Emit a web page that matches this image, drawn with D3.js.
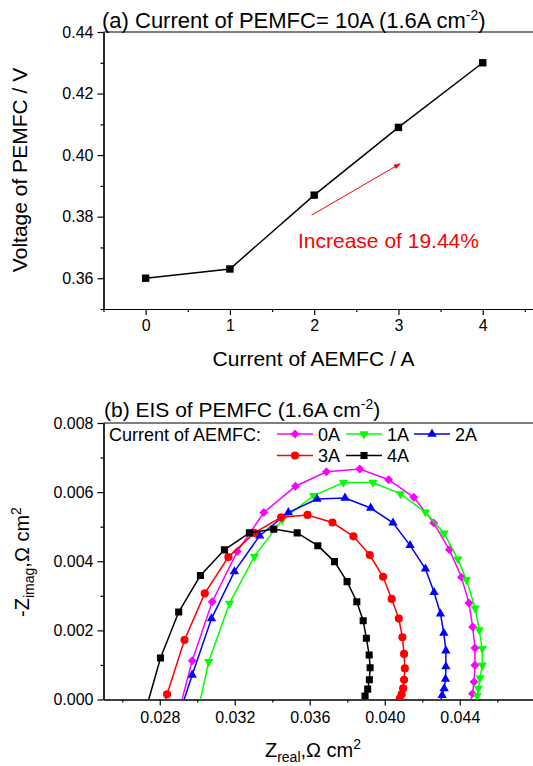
<!DOCTYPE html>
<html>
<head>
<meta charset="utf-8">
<script src="https://cdn.jsdelivr.net/npm/d3@7"></script>
<style>
  body { margin: 0; background: #fff; }
  svg { display: block; font-family: "Liberation Sans", Arial, sans-serif; }
  .axis path, .axis line { stroke: #000; stroke-width: 1.2; }
  .axis text { font-size: 16px; fill: #000; font-family: "Liberation Sans", Arial, sans-serif; }
</style>
</head>
<body>
<svg id="chart" width="533" height="766"></svg>
<script>
// (a) voltage vs AEMFC current
var aemfcCurrent = [0, 1, 2, 3, 4];
var pemfcVoltage = [0.360, 0.363, 0.387, 0.409, 0.430];
var voltTicks = [0.36, 0.38, 0.40, 0.42, 0.44];
var currTicks = [0, 1, 2, 3, 4];

// (b) EIS, Nyquist points
var seriesNames = ['0A', '1A', '2A', '3A', '4A'];
var zReal0A = [0.02895, 0.02973, 0.0308, 0.03213, 0.03355, 0.03524, 0.03689, 0.03867, 0.04021, 0.04155, 0.04261, 0.04345, 0.04409, 0.04449, 0.04469, 0.04481, 0.04481, 0.04476, 0.04468, 0.0445];
var zImag0A = [-0.0005, 0.00112, 0.00283, 0.00428, 0.00541, 0.00617, 0.00659, 0.00667, 0.00636, 0.00585, 0.00511, 0.00433, 0.00354, 0.00279, 0.0021, 0.00149, 0.00099, 0.00051, 0.00017, -0.0002];
var zReal1A = [0.02997, 0.03061, 0.03172, 0.03305, 0.03453, 0.03621, 0.0378, 0.03937, 0.04084, 0.04217, 0.04316, 0.0439, 0.04436, 0.04482, 0.04504, 0.0452, 0.0452, 0.04508, 0.04499, 0.04493, 0.0448];
var zImag1A = [-0.0005, 0.00109, 0.00278, 0.00414, 0.0052, 0.0059, 0.00628, 0.00628, 0.00595, 0.00542, 0.00481, 0.00406, 0.00346, 0.00264, 0.00201, 0.00147, 0.00099, 0.00062, 0.00032, 0.00011, -0.0002];
var zReal2A = [0.029, 0.02973, 0.03076, 0.03198, 0.03333, 0.03486, 0.03639, 0.03788, 0.03925, 0.04044, 0.04135, 0.04217, 0.04263, 0.04297, 0.04315, 0.04326, 0.04326, 0.04324, 0.04317, 0.04306, 0.0429];
var zImag2A = [-0.0005, 0.00071, 0.00234, 0.0037, 0.00474, 0.00541, 0.0058, 0.00583, 0.00554, 0.00511, 0.00446, 0.00378, 0.0031, 0.00248, 0.00192, 0.00141, 0.00095, 0.00059, 0.00032, 0.00012, -0.0002];
var zReal3A = [0.02801, 0.02839, 0.02932, 0.0304, 0.03166, 0.03305, 0.03447, 0.03588, 0.03721, 0.03833, 0.0392, 0.03991, 0.04037, 0.04075, 0.04094, 0.04103, 0.04107, 0.04103, 0.04098, 0.0409, 0.0408, 0.0406];
var zImag3A = [-0.0005, 0.00015, 0.00172, 0.00307, 0.00412, 0.00482, 0.00527, 0.00534, 0.00512, 0.00472, 0.00418, 0.00355, 0.00291, 0.00234, 0.0018, 0.00132, 0.0009, 0.00057, 0.00032, 0.00015, 0.00003, -0.0002];
var zReal4A = [0.02715, 0.02804, 0.02901, 0.03017, 0.03145, 0.03278, 0.03408, 0.03533, 0.03643, 0.03732, 0.03799, 0.03851, 0.03885, 0.03902, 0.03917, 0.03922, 0.03918, 0.03909, 0.03895, 0.0388];
var zImag4A = [-0.0005, 0.0012, 0.00253, 0.00359, 0.00433, 0.00482, 0.00493, 0.00482, 0.00445, 0.00399, 0.00341, 0.00283, 0.00228, 0.00177, 0.00129, 0.00092, 0.00057, 0.0003, 0.0001, -0.0002];
var zRealTicks = [0.028, 0.032, 0.036, 0.040, 0.044];
var zImagTicks = [0.000, 0.002, 0.004, 0.006, 0.008];

var svg = d3.select('#chart');
var font = '"Liberation Sans", Arial, sans-serif';

// ---------- panel (a) ----------
var xa = d3.scaleLinear().domain([-0.5, 5]).range([103.5, 567]);
var ya = d3.scaleLinear().domain([0.35, 0.44]).range([309, 32]);

// frame top line
svg.append('line').attr('x1', 103.5).attr('x2', 533).attr('y1', 32).attr('y2', 32)
  .attr('stroke', '#000').attr('stroke-width', 1.2);

svg.append('g').attr('class', 'axis').attr('transform', 'translate(0,309)')
  .call(d3.axisBottom(xa).tickValues(currTicks).tickSize(6).tickSizeOuter(0).tickPadding(5).tickFormat(d3.format('d')));
svg.append('g').attr('class', 'axis').attr('transform', 'translate(0,309)')
  .call(d3.axisBottom(xa).tickValues(d3.range(-0.5, 5, 1)).tickSize(3).tickSizeOuter(0).tickFormat(''));
svg.append('g').attr('class', 'axis').attr('transform', 'translate(103.5,0)')
  .call(d3.axisLeft(ya).tickValues(voltTicks).tickSize(6).tickSizeOuter(0).tickPadding(4).tickFormat(d3.format('.2f')));
svg.append('g').attr('class', 'axis').attr('transform', 'translate(103.5,0)')
  .call(d3.axisLeft(ya).tickValues([0.35, 0.37, 0.39, 0.41, 0.43]).tickSize(3).tickSizeOuter(0).tickFormat(''));

var lineA = d3.line().x(function(d, i) { return xa(aemfcCurrent[i]); }).y(function(d) { return ya(d); });
svg.append('path').datum(pemfcVoltage).attr('d', lineA)
  .attr('fill', 'none').attr('stroke', '#000').attr('stroke-width', 1.5);
svg.selectAll('.sqA').data(pemfcVoltage).enter().append('rect')
  .attr('x', function(d, i) { return xa(aemfcCurrent[i]) - 3.7; })
  .attr('y', function(d) { return ya(d) - 3.7; })
  .attr('width', 7.4).attr('height', 7.4).attr('fill', '#000');

// annotation arrow
svg.append('defs').append('marker').attr('id', 'arrowhead')
  .attr('viewBox', '0 0 10 10').attr('refX', 9).attr('refY', 5)
  .attr('markerWidth', 9).attr('markerHeight', 7).attr('orient', 'auto')
  .append('path').attr('d', 'M0,1.5 L10,5 L0,8.5 Z').attr('fill', '#f00');
svg.append('line').attr('x1', xa(1.97)).attr('y1', ya(0.3805)).attr('x2', xa(3.02)).attr('y2', ya(0.3972))
  .attr('stroke', '#f00').attr('stroke-width', 1).attr('marker-end', 'url(#arrowhead)');
svg.append('text').attr('x', 298).attr('y', 248).attr('fill', '#f00')
  .style('font-size', '21px').style('font-family', font).text('Increase of 19.44%');

var tA = svg.append('text').attr('x', 102).attr('y', 28).style('font-size', '22px').style('font-family', font);
tA.append('tspan').text('(a) Current of PEMFC= 10A (1.6A cm');
tA.append('tspan').attr('dy', -8).style('font-size', '14px').text('-2');
tA.append('tspan').attr('dy', 8).text(')');

svg.append('text').attr('x', 313.5).attr('y', 366).attr('text-anchor', 'middle')
  .style('font-size', '21px').style('font-family', font).text('Current of AEMFC / A');
svg.append('text').attr('transform', 'translate(27,170) rotate(-90)').attr('text-anchor', 'middle')
  .style('font-size', '21px').style('font-family', font).text('Voltage of PEMFC / V');

// ---------- panel (b) ----------
var xb = d3.scaleLinear().domain([0.025, 0.048]).range([103.5, 534.75]);
var yb = d3.scaleLinear().domain([0, 0.008]).range([699.5, 423]);

svg.append('clipPath').attr('id', 'clipB').append('rect')
  .attr('x', 103.5).attr('y', 423).attr('width', 430).attr('height', 276.5);

svg.append('line').attr('x1', 103.5).attr('x2', 533).attr('y1', 423).attr('y2', 423)
  .attr('stroke', '#000').attr('stroke-width', 1.2);

svg.append('g').attr('class', 'axis').attr('transform', 'translate(0,699.5)')
  .call(d3.axisBottom(xb).tickValues(zRealTicks).tickSize(6).tickSizeOuter(0).tickPadding(6).tickFormat(d3.format('.3f')));
svg.append('g').attr('class', 'axis').attr('transform', 'translate(0,699.5)')
  .call(d3.axisBottom(xb).tickValues([0.026, 0.030, 0.034, 0.038, 0.042, 0.046]).tickSize(3).tickSizeOuter(0).tickFormat(''));
svg.append('g').attr('class', 'axis').attr('transform', 'translate(103.5,0)')
  .call(d3.axisLeft(yb).tickValues(zImagTicks).tickSize(6).tickSizeOuter(0).tickPadding(4).tickFormat(d3.format('.3f')));
svg.append('g').attr('class', 'axis').attr('transform', 'translate(103.5,0)')
  .call(d3.axisLeft(yb).tickValues([0.001, 0.003, 0.005, 0.007]).tickSize(3).tickSizeOuter(0).tickFormat(''));

var eis = [
  { name: '0A', re: zReal0A, im: zImag0A, color: '#ff00ff', shape: d3.symbolSquare, size: 40, rot: 45 },
  { name: '1A', re: zReal1A, im: zImag1A, color: '#00ff00', shape: d3.symbolTriangle, size: 38, rot: 180 },
  { name: '2A', re: zReal2A, im: zImag2A, color: '#0000ff', shape: d3.symbolTriangle, size: 38, rot: 0 },
  { name: '3A', re: zReal3A, im: zImag3A, color: '#ff0000', shape: d3.symbolCircle, size: 52, rot: 0 },
  { name: '4A', re: zReal4A, im: zImag4A, color: '#000000', shape: d3.symbolSquare, size: 50, rot: 0 }
];

var plotB = svg.append('g').attr('clip-path', 'url(#clipB)');
eis.forEach(function(s) {
  var pts = s.re.map(function(r, i) { return [xb(r), yb(s.im[i])]; });
  plotB.append('path').datum(pts).attr('d', d3.line())
    .attr('fill', 'none').attr('stroke', s.color).attr('stroke-width', 1.5);
  var sym = d3.symbol().type(s.shape).size(s.size);
  plotB.selectAll(null).data(pts).enter().append('path')
    .attr('d', sym)
    .attr('transform', function(p) { return 'translate(' + p[0] + ',' + p[1] + ') rotate(' + s.rot + ')'; })
    .attr('fill', s.color);
});

// legend
svg.append('text').attr('x', 109).attr('y', 441).style('font-size', '18px').style('font-family', font)
  .text('Current of AEMFC:');
var legPos = [[277, 434], [346, 434], [414, 434], [277, 455.5], [346, 455.5]];
eis.forEach(function(s, i) {
  var p = legPos[i];
  var g = svg.append('g').attr('transform', 'translate(' + p[0] + ',' + p[1] + ')');
  g.append('line').attr('x1', 0).attr('x2', 36).attr('stroke', s.color).attr('stroke-width', 1.5);
  g.append('path').attr('d', d3.symbol().type(s.shape).size(s.size))
    .attr('transform', 'translate(18,0) rotate(' + s.rot + ')').attr('fill', s.color);
  g.append('text').attr('x', 41).attr('y', 6.5).style('font-size', '18px').style('font-family', font).text(seriesNames[i]);
});

var tB = svg.append('text').attr('x', 104).attr('y', 417).style('font-size', '21px').style('font-family', font);
tB.append('tspan').text('(b) EIS of PEMFC (1.6A cm');
tB.append('tspan').attr('dy', -8).style('font-size', '14px').text('-2');
tB.append('tspan').attr('dy', 8).text(')');

var xl = svg.append('text').attr('x', 313).attr('y', 757).attr('text-anchor', 'middle')
  .style('font-size', '20px').style('font-family', font);
xl.append('tspan').text('Z');
xl.append('tspan').attr('dy', 5).style('font-size', '14px').text('real');
xl.append('tspan').attr('dy', -5).text(',\u03A9 cm');
xl.append('tspan').attr('dy', -8).style('font-size', '14px').text('2');

var yl = svg.append('text').attr('transform', 'translate(29,562) rotate(-90)').attr('text-anchor', 'middle')
  .style('font-size', '20px').style('font-family', font);
yl.append('tspan').text('-Z');
yl.append('tspan').attr('dy', 5).style('font-size', '14px').text('imag');
yl.append('tspan').attr('dy', -5).text(',\u03A9 cm');
yl.append('tspan').attr('dy', -8).style('font-size', '14px').text('2');
</script>
</body>
</html>
